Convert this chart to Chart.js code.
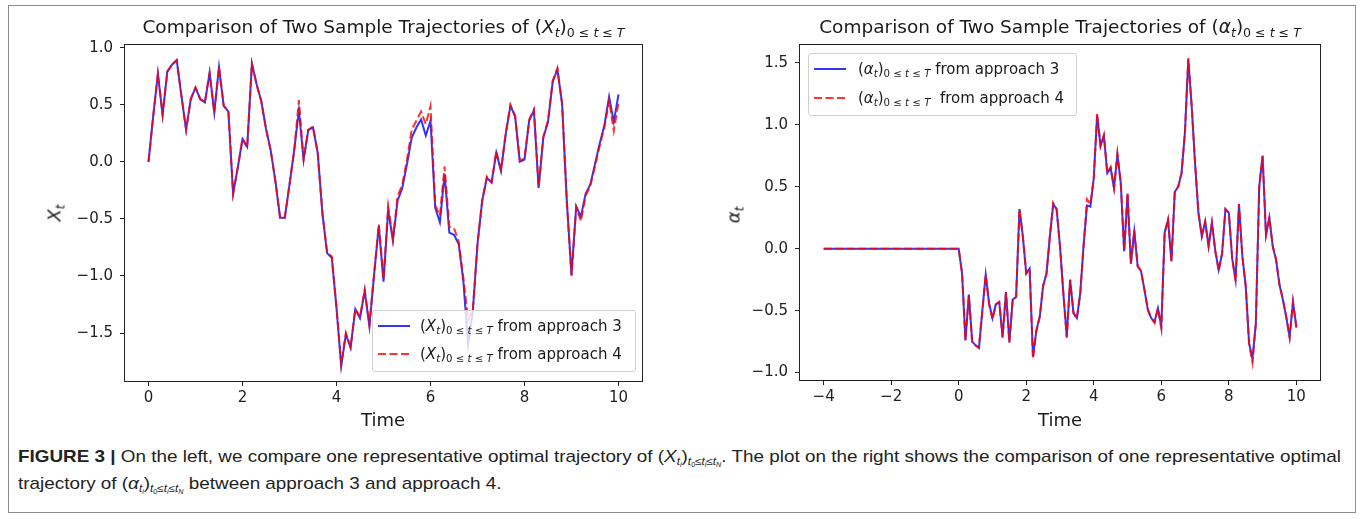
<!DOCTYPE html>
<html>
<head>
<meta charset="utf-8">
<title>Trajectories of X and alpha</title>
<script src="https://cdn.jsdelivr.net/npm/chart.js@4.4.1/dist/chart.umd.min.js"></script>
<style>
  html, body { margin: 0; padding: 0; background: #fff; }
  #fig { position: relative; width: 1362px; height: 519px; overflow: hidden;
         font-family: "DejaVu Sans", sans-serif; color: #1a1a1a; }
  #fig canvas { position: absolute; top: 0; }
  .frame { position: absolute; left: 8px; top: 5px; width: 1348px; height: 508px;
           border: 1px solid #8c8c8c; box-sizing: border-box; }
  .ttl { position: absolute; top: 16px; text-align: center; font-size: 18.5px; white-space: nowrap; }
  .xlab { position: absolute; top: 409px; font-size: 18px; transform: translateX(-50%); }
  .ylab { position: absolute; font-size: 18px; transform: translate(-50%, -50%) rotate(-90deg); white-space: nowrap; }
  .sb { font-size: 68%; position: relative; top: 0.32em; }
  .sb .sb { top: 0.25em; font-size: 75%; }
  .legend { position: absolute; background: rgba(255,255,255,0.8); border: 1px solid #d0d0d0;
            border-radius: 3px; box-sizing: border-box; }
  .legend svg { position: absolute; }
  .legend span.lbl { position: absolute; font-size: 15px; white-space: nowrap; transform: translateY(-50%); }
  .caption { position: absolute; left: 18px; top: 445px; font-family: "Liberation Sans", Arial, sans-serif;
             font-size: 17px; line-height: 24px; color: #222; white-space: nowrap;
             transform: scaleX(1.11); transform-origin: 0 0; }
  .caption .sb { font-size: 62%; }
  .caption b { font-weight: bold; }
</style>
</head>
<body>
<div id="fig">
  <div class="frame"></div>

  <canvas id="chartX" width="680" height="440" style="left:0"></canvas>
  <canvas id="chartAlpha" width="682" height="440" style="left:680px"></canvas>

  <div class="ttl" style="left:125px;width:517px">Comparison of Two Sample Trajectories of (<i>X</i><span class="sb"><i>t</i></span>)<span class="sb">0 ≤ <i>t</i> ≤ <i>T</i></span></div>
  <div class="ttl" style="left:800px;width:520px">Comparison of Two Sample Trajectories of (<i>α</i><span class="sb"><i>t</i></span>)<span class="sb">0 ≤ <i>t</i> ≤ <i>T</i></span></div>

  <div class="ylab" style="left:54px;top:213px"><i>X</i><span class="sb"><i>t</i></span></div>
  <div class="ylab" style="left:733px;top:215px"><i>α</i><span class="sb"><i>t</i></span></div>
  <div class="xlab" style="left:383px">Time</div>
  <div class="xlab" style="left:1060px">Time</div>

  <div class="legend" style="left:372px;top:310px;width:264px;height:62px">
    <svg style="left:5px;top:10px" width="32" height="10"><line x1="0" y1="5" x2="32" y2="5" stroke="rgba(0,0,255,0.8)" stroke-width="2"/></svg>
    <span class="lbl" style="left:47px;top:15px">(<i>X</i><span class="sb"><i>t</i></span>)<span class="sb">0 ≤ <i>t</i> ≤ <i>T</i></span> from approach 3</span>
    <svg style="left:5px;top:38px" width="32" height="10"><line x1="0" y1="5" x2="32" y2="5" stroke="rgba(255,0,0,0.8)" stroke-width="2" stroke-dasharray="8 3.5"/></svg>
    <span class="lbl" style="left:47px;top:43px">(<i>X</i><span class="sb"><i>t</i></span>)<span class="sb">0 ≤ <i>t</i> ≤ <i>T</i></span> from approach 4</span>
  </div>

  <div class="legend" style="left:808px;top:53px;width:269px;height:63px">
    <svg style="left:5px;top:10px" width="32" height="10"><line x1="0" y1="5" x2="32" y2="5" stroke="rgba(0,0,255,0.8)" stroke-width="2"/></svg>
    <span class="lbl" style="left:49px;top:15px">(<i>α</i><span class="sb"><i>t</i></span>)<span class="sb">0 ≤ <i>t</i> ≤ <i>T</i></span> from approach 3</span>
    <svg style="left:5px;top:39px" width="32" height="10"><line x1="0" y1="5" x2="32" y2="5" stroke="rgba(255,0,0,0.8)" stroke-width="2" stroke-dasharray="8 3.5"/></svg>
    <span class="lbl" style="left:49px;top:44px">(<i>α</i><span class="sb"><i>t</i></span>)<span class="sb">0 ≤ <i>t</i> ≤ <i>T</i></span>&nbsp; from approach 4</span>
  </div>

  <div class="caption">
    <b>FIGURE 3 |</b> On the left, we compare one representative optimal trajectory of (<i>X</i><span class="sb"><i>t</i><span class="sb"><i>i</i></span></span>)<span class="sb"><i>t</i><span class="sb">0</span>≤<i>t</i><span class="sb"><i>i</i></span>≤<i>t</i><span class="sb"><i>N</i></span></span>. The plot on the right shows the comparison of one representative optimal<br>
    trajectory of (<i>α</i><span class="sb"><i>t</i><span class="sb"><i>i</i></span></span>)<span class="sb"><i>t</i><span class="sb">0</span>≤<i>t</i><span class="sb"><i>i</i></span>≤<i>t</i><span class="sb"><i>N</i></span></span> between approach 3 and approach 4.
  </div>
</div>

<script>
// sampling grid of the simulation, dt = 0.1 on [0, 10]
var DT = 0.1;
var timeGrid = Array.from({ length: 101 }, function (_, i) { return +(i * DT).toFixed(1); });

// X_t, approach 3 (solid) and approach 4 (dashed)
var xApproach3 = [
   0.00,  0.40,  0.77,  0.41,  0.79,  0.85,  0.89,  0.58,  0.28,  0.55,
   0.65,  0.55,  0.52,  0.78,  0.43,  0.83,  0.49,  0.44, -0.28, -0.05,
   0.20,  0.13,  0.86,  0.68,  0.53,  0.29,  0.10, -0.17, -0.49, -0.49,
  -0.20,  0.10,  0.45,  0.02,  0.28,  0.30,  0.08, -0.45, -0.80, -0.84,
  -1.28, -1.79, -1.51, -1.63, -1.29, -1.37, -1.13, -1.44, -0.99, -0.56,
  -1.05, -0.42, -0.69, -0.34, -0.23, -0.02,  0.21,  0.30,  0.37,  0.23,
   0.36, -0.40, -0.53, -0.11, -0.62, -0.64, -0.72, -1.05, -1.60, -1.31,
  -0.72, -0.34, -0.14, -0.18,  0.08, -0.08,  0.24,  0.49,  0.40,  0.00,
   0.02,  0.36,  0.45, -0.23,  0.21,  0.35,  0.70,  0.81,  0.51, -0.34,
  -0.99, -0.39, -0.48, -0.28, -0.20, -0.02,  0.16,  0.32,  0.57,  0.35,
   0.59
];
var xApproach4 = [
   0.00,  0.40,  0.77,  0.41,  0.79,  0.85,  0.89,  0.58,  0.28,  0.55,
   0.65,  0.55,  0.52,  0.78,  0.43,  0.83,  0.49,  0.44, -0.28, -0.05,
   0.20,  0.13,  0.86,  0.68,  0.53,  0.29,  0.10, -0.17, -0.49, -0.49,
  -0.20,  0.10,  0.54,  0.02,  0.28,  0.31,  0.08, -0.45, -0.79, -0.83,
  -1.28, -1.77, -1.50, -1.62, -1.29, -1.36, -1.12, -1.43, -0.98, -0.55,
  -1.03, -0.39, -0.68, -0.30, -0.20,  0.02,  0.28,  0.36,  0.44,  0.33,
   0.49, -0.38, -0.47, -0.04, -0.57, -0.58, -0.70, -1.02, -1.38, -1.30,
  -0.72, -0.34, -0.13, -0.18,  0.09, -0.07,  0.25,  0.50,  0.40,  0.01,
   0.03,  0.37,  0.46, -0.22,  0.22,  0.36,  0.71,  0.82,  0.50, -0.35,
  -1.00, -0.40, -0.52, -0.30, -0.21, -0.04,  0.14,  0.30,  0.54,  0.27,
   0.52
];

// alpha_t is held at 0 on [-4, 0], then follows the grid
var alphaTime = [-4].concat(timeGrid);
var alphaApproach3 = [0.00,
   0.00, -0.20, -0.74, -0.37, -0.75, -0.78, -0.80, -0.50, -0.21, -0.44,
  -0.56, -0.45, -0.43, -0.71, -0.35, -0.75, -0.41, -0.39,  0.32,  0.10,
  -0.20, -0.16, -0.87, -0.66, -0.55, -0.30, -0.20,  0.10,  0.36,  0.32,
   0.02, -0.36, -0.71, -0.25, -0.52, -0.56, -0.36,  0.03,  0.35,  0.34,
   0.57,  1.08,  0.83,  0.91,  0.61,  0.65,  0.49,  0.76,  0.53, -0.02,
   0.44, -0.12,  0.14, -0.14, -0.18, -0.33, -0.49, -0.56, -0.59, -0.48,
  -0.63,  0.13,  0.23, -0.10,  0.46,  0.50,  0.61,  0.94,  1.53,  1.15,
   0.69,  0.29,  0.10,  0.22,  0.02,  0.21, -0.02, -0.17, -0.04,  0.32,
   0.29, -0.08, -0.25,  0.36, -0.06, -0.30, -0.76, -0.89, -0.60,  0.50,
   0.75,  0.11,  0.25,  0.02, -0.09, -0.29, -0.41, -0.55, -0.71, -0.43,
  -0.63
];
var alphaApproach4 = [0.00,
   0.00, -0.20, -0.74, -0.38, -0.76, -0.78, -0.80, -0.50, -0.21, -0.45,
  -0.57, -0.45, -0.43, -0.72, -0.35, -0.76, -0.41, -0.39,  0.32,  0.10,
  -0.20, -0.16, -0.89, -0.66, -0.55, -0.30, -0.20,  0.10,  0.37,  0.32,
   0.02, -0.36, -0.72, -0.25, -0.52, -0.56, -0.36,  0.03,  0.40,  0.36,
   0.57,  1.09,  0.83,  0.92,  0.61,  0.66,  0.49,  0.77,  0.53, -0.02,
   0.45, -0.12,  0.15, -0.14, -0.18, -0.33, -0.49, -0.56, -0.60, -0.48,
  -0.64,  0.13,  0.24, -0.10,  0.46,  0.50,  0.61,  0.94,  1.54,  1.15,
   0.69,  0.29,  0.10,  0.22,  0.02,  0.21, -0.02, -0.18, -0.04,  0.32,
   0.29, -0.08, -0.26,  0.36, -0.06, -0.30, -0.77, -0.92, -0.61,  0.50,
   0.75,  0.11,  0.25,  0.02, -0.09, -0.29, -0.41, -0.55, -0.72, -0.43,
  -0.64
];

var BLUE = 'rgba(0,0,255,0.8)';
var RED = 'rgba(255,0,0,0.8)';
var TICK_FONT = { family: 'DejaVu Sans', size: 15 };

// matplotlib style "−0.5" labels
function minusSign(s) { return String(s).replace('-', '\u2212'); }

// closed box around the plotting area (all four spines)
var spines = {
  id: 'spines',
  afterDraw: function (chart) {
    var a = chart.chartArea, c = chart.ctx;
    c.save();
    c.strokeStyle = '#222';
    c.lineWidth = 1;
    c.strokeRect(Math.round(a.left) - 0.5, Math.round(a.top) - 0.5,
                 Math.round(a.right - a.left) + 1, Math.round(a.bottom - a.top) + 1);
    c.restore();
  }
};

function trajectoryChart(canvasId, xs, solid, dashed, o) {
  var el = document.getElementById(canvasId);
  var points = function (ys) { return xs.map(function (x, i) { return { x: x, y: ys[i] }; }); };
  var axisGrid = { drawOnChartArea: false, drawTicks: true, tickLength: 5, color: '#222', lineWidth: 1 };
  return new Chart(el.getContext('2d'), {
    type: 'line',
    data: {
      datasets: [
        { label: 'approach 3', data: points(solid), borderColor: BLUE, borderWidth: 2,
          pointRadius: 0, tension: 0, fill: false, order: 1 },
        { label: 'approach 4', data: points(dashed), borderColor: RED, borderWidth: 2,
          borderDash: [8, 3.5], pointRadius: 0, tension: 0, fill: false, order: 0 }
      ]
    },
    options: {
      responsive: false,
      animation: false,
      events: [],
      layout: { padding: o.padding },
      plugins: { legend: { display: false }, tooltip: { enabled: false } },
      scales: {
        x: {
          type: 'linear', min: o.xMin, max: o.xMax,
          grid: axisGrid, border: { display: false },
          afterFit: function (s) { s.height = o.xAxisHeight; },
          ticks: { stepSize: 2, includeBounds: false, maxRotation: 0, padding: 3,
                   color: '#222', font: TICK_FONT,
                   callback: function (v) { return minusSign(v); } }
        },
        y: {
          type: 'linear', min: o.yMin, max: o.yMax,
          grid: axisGrid, border: { display: false },
          afterFit: function (s) { s.width = o.yAxisWidth; },
          ticks: { stepSize: 0.5, includeBounds: false, padding: 7,
                   color: '#222', font: TICK_FONT,
                   callback: function (v) { return minusSign(v.toFixed(1)); } }
        }
      }
    },
    plugins: [spines]
  });
}

trajectoryChart('chartX', timeGrid, xApproach3, xApproach4, {
  xMin: -0.5, xMax: 10.5, yMin: -1.92, yMax: 1.023,
  padding: { top: 45, right: 38, bottom: 0, left: 0 },
  yAxisWidth: 125, xAxisHeight: 59
});

trajectoryChart('chartAlpha', alphaTime, alphaApproach3, alphaApproach4, {
  xMin: -4.7, xMax: 10.7, yMin: -1.06, yMax: 1.645,
  padding: { top: 45, right: 42, bottom: 0, left: 0 },
  yAxisWidth: 120, xAxisHeight: 60
});
</script>
</body>
</html>
